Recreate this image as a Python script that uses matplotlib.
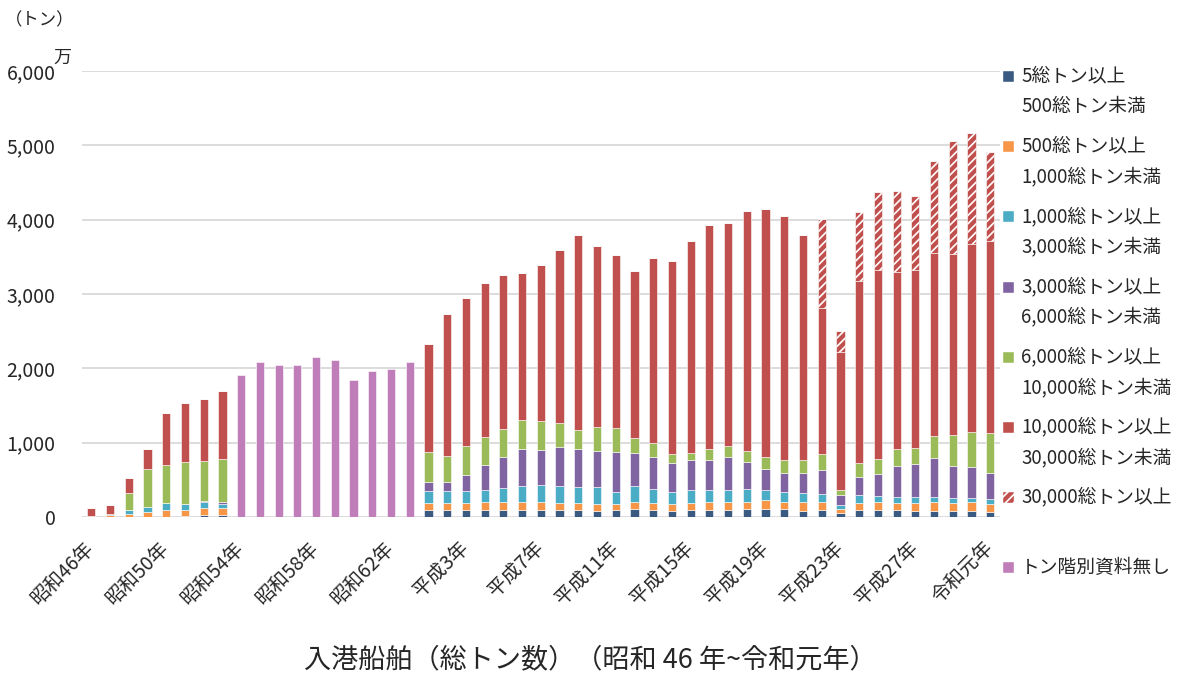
import numpy as np
import matplotlib
matplotlib.use("Agg")
import matplotlib.pyplot as plt
from matplotlib.patches import Rectangle

plt.rcParams['font.family'] = ['Noto Sans CJK JP', 'DejaVu Sans']
plt.rcParams['hatch.linewidth'] = 1.2

# 昭和46年(1971) ~ 令和元年(2019)
years = list(range(1971, 2020))
tick_years = [1971, 1975, 1979, 1983, 1987, 1991, 1995, 1999, 2003, 2007, 2011, 2015, 2019]
tick_labels = ['昭和46年', '昭和50年', '昭和54年', '昭和58年', '昭和62年', '平成3年', '平成7年',
               '平成11年', '平成15年', '平成19年', '平成23年', '平成27年', '令和元年']
ytick_vals = [0, 1000, 2000, 3000, 4000, 5000, 6000]
ytick_labels = ['0', '1,000', '2,000', '3,000', '4,000', '5,000', '6,000']

# 万トン, 1971-1978 / 1979-1988 (no breakdown) / 1989-2019
z10 = [0] * 10
s_5_500 = [0, 5, 0, 0, 0, 10, 23, 33] + z10 + \
    [94, 94, 94, 94, 94, 94, 94, 94, 94, 85, 94, 108, 94, 85, 94, 94, 99, 103, 103, 103, 76,
     90, 54, 90, 90, 90, 76, 81, 81, 81, 72]
s_500_1000 = [20, 20, 42, 70, 100, 85, 100, 93] + z10 + \
    [99, 95, 99, 104, 108, 104, 113, 99, 90, 86, 86, 94, 99, 95, 99, 104, 99, 104, 121, 95, 122,
     108, 49, 99, 112, 103, 113, 117, 108, 117, 99]
s_1000_3000 = [0, 12, 51, 70, 85, 77, 75, 55] + z10 + \
    [157, 157, 153, 161, 184, 215, 219, 220, 216, 233, 161, 211, 180, 152, 166, 161, 161, 166, 140, 134, 130,
     112, 63, 103, 77, 81, 81, 72, 72, 58, 76]
s_3000_6000 = [0, 0, 0, 0, 0, 0, 20, 20] + z10 + \
    [121, 125, 220, 341, 418, 507, 481, 530, 520, 489, 530, 453, 435, 400, 409, 409, 449, 368, 287, 261, 265,
     328, 135, 243, 297, 414, 440, 521, 422, 423, 342]
s_6000_10000 = [0, 0, 232, 510, 520, 562, 530, 581] + z10 + \
    [409, 346, 386, 382, 377, 382, 381, 318, 252, 324, 323, 193, 184, 121, 89, 143, 144, 148, 153, 179, 179,
     216, 68, 193, 211, 229, 212, 293, 414, 468, 544]
s_10000_30000 = [100, 130, 205, 265, 693, 804, 841, 911] + z10 + \
    [1445, 1908, 1988, 2061, 2074, 1980, 2101, 2335, 2626, 2424, 2326, 2250, 2492, 2586, 2860, 3013, 2999,
     3223, 3340, 3277, 3021, 1952, 1852, 2451, 2540, 2383, 2405, 2473, 2446, 2522, 2581]
s_30000 = [0] * 8 + z10 + [0] * 21 + [1200, 283, 922, 1039, 1084, 994, 1232, 1511, 1497, 1201]
s_nodata = [0] * 8 + [1905, 2082, 2040, 2040, 2147, 2110, 1840, 1961, 1989, 2082] + [0] * 31

series = [s_5_500, s_500_1000, s_1000_3000, s_3000_6000, s_6000_10000, s_10000_30000, s_30000, s_nodata]
labels = [('5総トン以上', '500総トン未満'), ('500総トン以上', '1,000総トン未満'),
          ('1,000総トン以上', '3,000総トン未満'), ('3,000総トン以上', '6,000総トン未満'),
          ('6,000総トン以上', '10,000総トン未満'), ('10,000総トン以上', '30,000総トン未満'),
          ('30,000総トン以上', ''), ('トン階別資料無し', '')]
colors = ['#3B5A82', '#F79646', '#4BACC6', '#8064A2', '#9BBB59', '#C0504D', '#C0504D', '#BF7DB9']
hatches = [None, None, None, None, None, None, '////', None]

fig = plt.figure(figsize=(11.83, 6.74), dpi=100)
ax = fig.add_axes([0.0693, 0.2329, 0.7757, 0.6618])

x = np.arange(len(years))
bottom = np.zeros(len(years))
for vals, c, h in zip(series, colors, hatches):
    vals = np.array(vals, dtype=float)
    ax.bar(x, vals, width=0.44, bottom=bottom, color=c, hatch=h,
           edgecolor='white', linewidth=0.4, zorder=3)
    bottom += vals

ax.set_xlim(-0.5, len(years) - 0.5)
ax.set_ylim(0, 6000)
ax.set_yticks(ytick_vals)
ax.set_yticklabels(ytick_labels, fontsize=14, color='#262626')
ax.set_xticks([years.index(y) for y in tick_years])
ax.set_xticklabels(tick_labels, fontsize=14, rotation=45, ha='right', va='center',
                   rotation_mode='anchor', color='#262626')
ax.tick_params(axis='both', length=0)
ax.tick_params(axis='y', pad=19)
ax.tick_params(axis='x', pad=20)
ax.grid(axis='y', color='#D9D9D9', linewidth=1.3, zorder=0)
for s in ax.spines.values():
    s.set_visible(False)

fig.text(40 / 1183, 1 - 20 / 674, '（トン）', fontsize=12.5, ha='center', va='center', color='#262626')
fig.text(62 / 1183, 1 - 58 / 674, '万', fontsize=13, ha='center', va='center', color='#262626')
fig.text(590 / 1183, 1 - 660 / 674, '入港船舶（総トン数）（昭和 46 年~令和元年）', fontsize=19.5,
         ha='center', va='center', color='#262626')

# legend drawn by hand so that the swatch sits on the first line
W, H = 1183, 674
y0 = 76
for i, ((l1, l2), c, h) in enumerate(zip(labels, colors, hatches)):
    yy = y0 + i * 70.2
    fig.add_artist(Rectangle((1003 / W, 1 - (yy + 6) / H), 11 / W, 11 / H,
                             transform=fig.transFigure, facecolor=c, hatch=h,
                             edgecolor='white', linewidth=0.3))
    fig.text(1021 / W, 1 - yy / H, l1, fontsize=13.5, ha='left', va='center', color='#262626')
    if l2:
        fig.text(1021 / W, 1 - (yy + 30.5) / H, l2, fontsize=13.5, ha='left', va='center', color='#262626')

fig.savefig('out.png', dpi=100)
